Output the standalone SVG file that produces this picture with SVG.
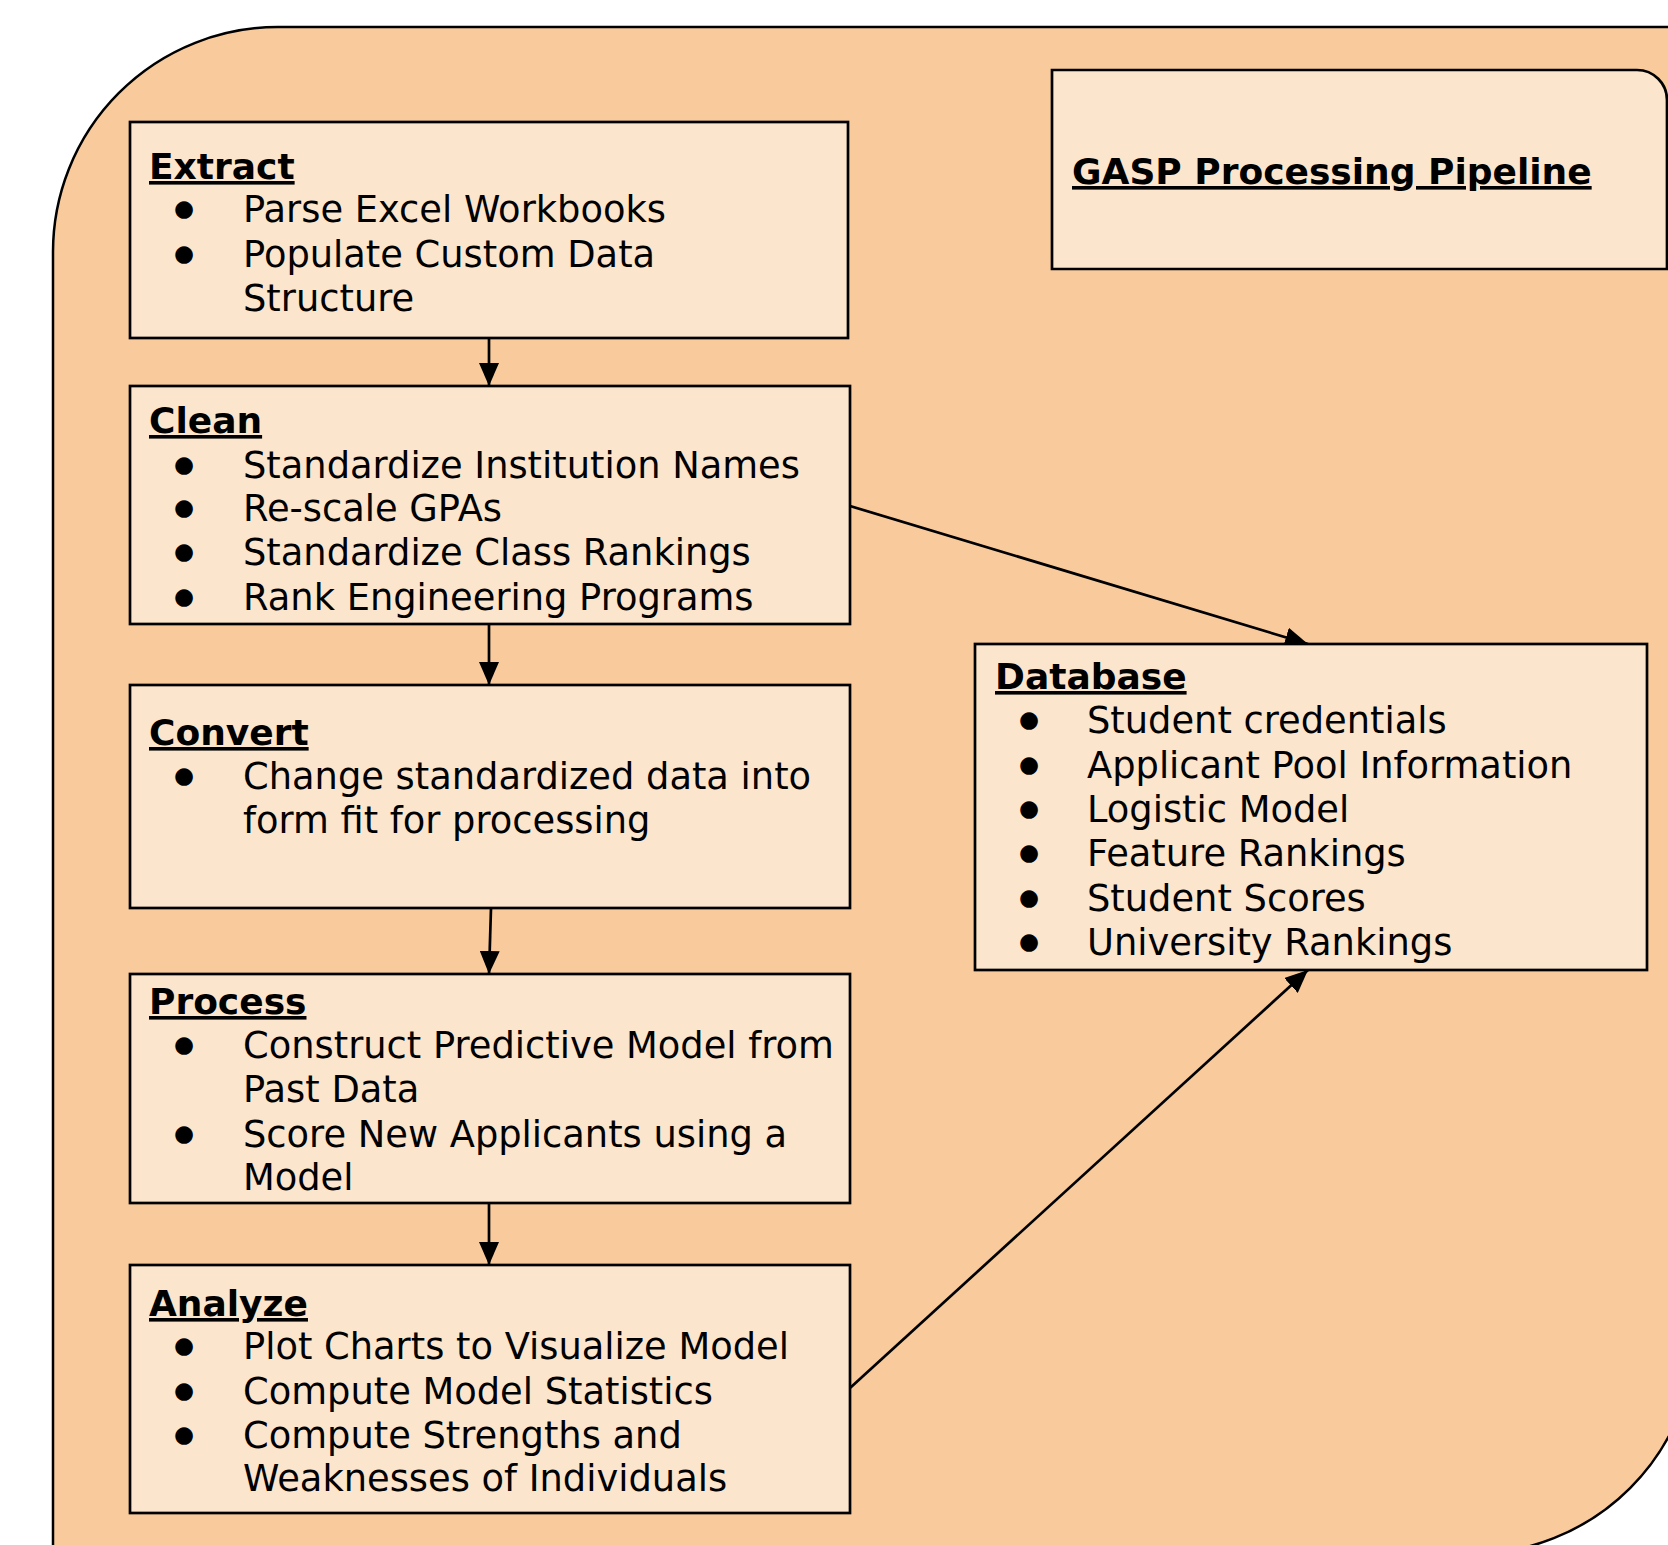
<svg xmlns="http://www.w3.org/2000/svg" width="1668" height="1545" viewBox="0 0 1668 1545">
<defs>
<style>
.bg{fill:#f9cb9c;stroke:#000;stroke-width:2.5}
.box{fill:#fce5cd;stroke:#000;stroke-width:2.7}
.t{font-family:"DejaVu Sans","Verdana",sans-serif;font-size:36.8px;fill:#000}
.h{font-family:"DejaVu Sans","Verdana",sans-serif;font-size:36px;font-weight:bold;fill:#000;text-decoration:underline}
.b{font-family:"DejaVu Sans",sans-serif;font-size:23px;fill:#000;text-anchor:middle}
.c{stroke:#000;stroke-width:2.7;fill:none;marker-end:url(#ah)}
</style>
<marker id="ah" markerUnits="userSpaceOnUse" markerWidth="24" markerHeight="20" refX="23" refY="10" orient="auto">
<path d="M0,0 L23,10 L0,20 Z" fill="#000"/>
</marker>
</defs>
<path class="bg" d="M53,1556 V252 A225,225 0 0 1 278,27 H1696 V1329 A225,225 0 0 1 1471,1554 Z"/>

<g id="connectors">
<line class="c" x1="489" y1="338" x2="489" y2="386"/>
<line class="c" x1="489" y1="624" x2="489" y2="685"/>
<line class="c" x1="491" y1="908" x2="489" y2="974"/>
<line class="c" x1="489" y1="1203" x2="489" y2="1265"/>
<line class="c" x1="850" y1="506" x2="1308" y2="644"/>
<line class="c" x1="850" y1="1388" x2="1308" y2="970"/>
</g>

<g id="title">
<path class="box" d="M1052,70 H1637 A30,30 0 0 1 1667,100 V269 H1052 Z"/>
<text class="h" x="1072" y="184">GASP Processing Pipeline</text>
</g>

<g id="extract">
<rect class="box" x="130" y="122" width="718" height="216"/>
<text class="h" x="149" y="179">Extract</text>
<text class="b" x="184" y="216">●</text>
<text class="t" x="243" y="222">Parse Excel Workbooks</text>
<text class="b" x="184" y="261">●</text>
<text class="t" x="243" y="267">Populate Custom Data</text>
<text class="t" x="243" y="311">Structure</text>
</g>

<g id="clean">
<rect class="box" x="130" y="386" width="720" height="238"/>
<text class="h" x="149" y="433">Clean</text>
<text class="b" x="184" y="472">●</text>
<text class="t" x="243" y="478">Standardize Institution Names</text>
<text class="b" x="184" y="515">●</text>
<text class="t" x="243" y="521">Re-scale GPAs</text>
<text class="b" x="184" y="559">●</text>
<text class="t" x="243" y="565">Standardize Class Rankings</text>
<text class="b" x="184" y="604">●</text>
<text class="t" x="243" y="610">Rank Engineering Programs</text>
</g>

<g id="convert">
<rect class="box" x="130" y="685" width="720" height="223"/>
<text class="h" x="149" y="745">Convert</text>
<text class="b" x="184" y="783">●</text>
<text class="t" x="243" y="789">Change standardized data into</text>
<text class="t" x="243" y="833">form fit for processing</text>
</g>

<g id="process">
<rect class="box" x="130" y="974" width="720" height="229"/>
<text class="h" x="149" y="1014">Process</text>
<text class="b" x="184" y="1052">●</text>
<text class="t" x="243" y="1058">Construct Predictive Model from</text>
<text class="t" x="243" y="1102">Past Data</text>
<text class="b" x="184" y="1141">●</text>
<text class="t" x="243" y="1147">Score New Applicants using a</text>
<text class="t" x="243" y="1190">Model</text>
</g>

<g id="analyze">
<rect class="box" x="130" y="1265" width="720" height="248"/>
<text class="h" x="149" y="1316">Analyze</text>
<text class="b" x="184" y="1353">●</text>
<text class="t" x="243" y="1359">Plot Charts to Visualize Model</text>
<text class="b" x="184" y="1398">●</text>
<text class="t" x="243" y="1404">Compute Model Statistics</text>
<text class="b" x="184" y="1442">●</text>
<text class="t" x="243" y="1448">Compute Strengths and</text>
<text class="t" x="243" y="1491">Weaknesses of Individuals</text>
</g>

<g id="database">
<rect class="box" x="975" y="644" width="672" height="326"/>
<text class="h" x="995" y="689">Database</text>
<text class="b" x="1029" y="727">●</text>
<text class="t" x="1087" y="733">Student credentials</text>
<text class="b" x="1029" y="772">●</text>
<text class="t" x="1087" y="778">Applicant Pool Information</text>
<text class="b" x="1029" y="816">●</text>
<text class="t" x="1087" y="822">Logistic Model</text>
<text class="b" x="1029" y="860">●</text>
<text class="t" x="1087" y="866">Feature Rankings</text>
<text class="b" x="1029" y="905">●</text>
<text class="t" x="1087" y="911">Student Scores</text>
<text class="b" x="1029" y="949">●</text>
<text class="t" x="1087" y="955">University Rankings</text>
</g>
</svg>
